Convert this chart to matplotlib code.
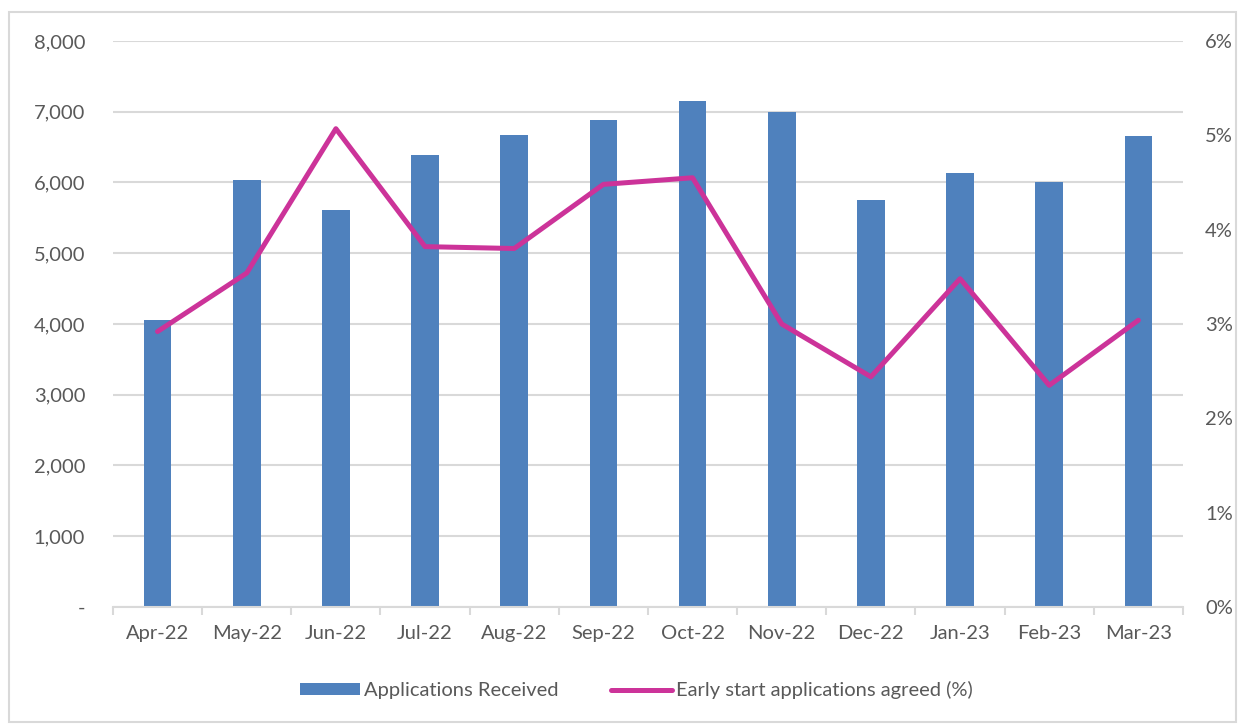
import numpy as np
import matplotlib.pyplot as plt
from matplotlib.patches import Rectangle

plt.rcParams['font.family'] = ['Lato', 'DejaVu Sans']

months = ['Apr-22', 'May-22', 'Jun-22', 'Jul-22', 'Aug-22', 'Sep-22',
          'Oct-22', 'Nov-22', 'Dec-22', 'Jan-23', 'Feb-23', 'Mar-23']
applications = [4055, 6035, 5610, 6390, 6670, 6880, 7150, 6995, 5755, 6130, 6005, 6655]
early_pct = [2.92, 3.54, 5.07, 3.82, 3.80, 4.48, 4.55, 3.00, 2.44, 3.48, 2.35, 3.04]

bar_col = '#4F81BD'
line_col = '#CC3399'
txt_col = '#595959'
grid_col = '#D9D9D9'

fig = plt.figure(figsize=(12.4, 7.24), dpi=100)
fig.patches.append(Rectangle((0.007, 0.003), 0.99, 0.98, transform=fig.transFigure,
                             fill=False, edgecolor='#D9D9D9', linewidth=1.5))
ax = fig.add_axes([0.0911, 0.1616, 0.8629, 0.7818])
x = np.arange(len(months))
bars = ax.bar(x, applications, width=0.31, color=bar_col, zorder=2,
              label='Applications Received')
ax.set_xlim(-0.5, len(months) - 0.5)
ax.set_ylim(0, 8000)
ax.set_yticks(np.arange(0, 8001, 1000))
ax.set_yticklabels(['-'] + ['{:,}'.format(v) for v in range(1000, 8001, 1000)])
ax.yaxis.grid(True, color=grid_col, linewidth=1.5, zorder=0)
ax.set_axisbelow(True)
ax.set_xticks(x)
ax.set_xticklabels(months)
ax.set_xticks(np.arange(-0.5, len(months), 1), minor=True)
ax.tick_params(axis='x', which='major', length=0, pad=13, labelsize=14.5, labelcolor=txt_col)
ax.tick_params(axis='x', which='minor', length=6, color=grid_col, width=1.5)
ax.tick_params(axis='y', length=0, pad=20, labelsize=14.5, labelcolor=txt_col)
for s in ['top', 'right', 'left']:
    ax.spines[s].set_visible(False)
ax.spines['bottom'].set_color(grid_col)
ax.spines['bottom'].set_linewidth(1.5)

ax2 = ax.twinx()
line, = ax2.plot(x, early_pct, color=line_col, linewidth=3.6, zorder=3,
                 solid_capstyle='round', label='Early start applications agreed (%)')
ax2.set_ylim(0, 6)
ax2.set_yticks(range(0, 7))
ax2.set_yticklabels(['{}%'.format(v) for v in range(0, 7)])
ax2.tick_params(axis='y', length=0, pad=16, labelsize=14.5, labelcolor=txt_col)
for s in ax2.spines.values():
    s.set_visible(False)

fig.legend([bars, line], [bars.get_label(), line.get_label()], loc='center',
           bbox_to_anchor=(0.513, 0.047), ncol=2, frameon=False, fontsize=14.5,
           labelcolor=txt_col, handlelength=3.0, handleheight=0.5,
           handletextpad=0.2, columnspacing=2.6)

plt.savefig('out.png', dpi=100)
